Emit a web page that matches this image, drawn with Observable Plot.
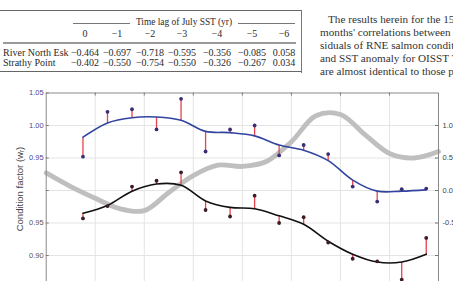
<!DOCTYPE html>
<html>
<head>
<meta charset="utf-8">
<script src="https://cdn.jsdelivr.net/npm/d3@7"></script>
<script src="https://cdn.jsdelivr.net/npm/@observablehq/plot@0.6"></script>
<style>
  html, body { margin: 0; padding: 0; background: #fff; }
  body { width: 453px; height: 281px; overflow: hidden; position: relative; font-family: "Liberation Serif", "Times New Roman", serif; color: #2a2a2a; }
  .rule { position: absolute; background: #777; }
  .cell { position: absolute; font-size: 10px; line-height: 11px; white-space: nowrap; transform: translateX(-50%); }
  .cell.left { transform: none; }
  .cell.head { font-size: 9.4px; }
  #para { position: absolute; left: 320px; top: 12.5px; width: 200px; font-size: 11.2px; line-height: 13px; white-space: nowrap; color: #333; }
  #para div:first-child { padding-left: 8px; }
  #chart { position: absolute; left: 0; top: 80px; }
  #ylabel { position: absolute; left: 19px; top: 189px; transform: translate(-50%, -50%) rotate(-90deg); font-family: "Liberation Sans", Arial, sans-serif; font-size: 9.5px; color: #444; white-space: nowrap; }
  #ylabel sub { font-size: 6.5px; vertical-align: -1px; }
</style>
</head>
<body>
<div id="table"></div>
<div id="para">
  <div>The results herein for the 15</div>
  <div>months' correlations between</div>
  <div>siduals of RNE salmon condition</div>
  <div>and SST anomaly for OISST V2</div>
  <div>are almost identical to those presented</div>
</div>
<div id="chart"></div>
<div id="ylabel">Condition factor (w<sub>r</sub>)</div>
<script>
// Correlation table: time lag of July SST (yr)
const lagLabels = ["0", "\u22121", "\u22122", "\u22123", "\u22124", "\u22125", "\u22126"];
const rneCorr = ["\u22120.464", "\u22120.697", "\u22120.718", "\u22120.595", "\u22120.356", "\u22120.085", "0.058"];
const strathyCorr = ["\u22120.402", "\u22120.550", "\u22120.754", "\u22120.550", "\u22120.326", "\u22120.267", "0.034"];
const rowNames = ["River North Esk", "Strathy Point"];

// Condition factor series (annual) with smoothed fits
const years = [1997, 1998, 1999, 2000, 2001, 2002, 2003, 2004, 2005, 2006, 2007, 2008, 2009, 2010, 2011];
const rneObserved = [0.952, 1.021, 1.025, 0.994, 1.041, 0.960, 0.994, 1.000, 0.954, 0.970, 0.956, 0.906, 0.883, 0.902, 0.903];
const rneFitted   = [0.982, 1.004, 1.012, 1.013, 1.008, 0.991, 0.989, 0.984, 0.970, 0.962, 0.946, 0.916, 0.899, 0.899, 0.901];
const strathyObserved = [0.957, 0.976, 1.006, 1.015, 1.028, 0.970, 0.960, 0.992, 0.950, 0.959, 0.920, 0.895, 0.891, 0.863, 0.927];
const strathyFitted   = [0.965, 0.977, 0.999, 1.010, 1.008, 0.984, 0.974, 0.972, 0.961, 0.948, 0.922, 0.902, 0.890, 0.890, 0.902];

// July SST anomaly (right axis)
const sstYears = [1995.5, 1996.5, 1997.5, 1998.5, 1999.5, 2000.5, 2001.5, 2002.5, 2003.5, 2004.5, 2005.5, 2006.5, 2007.5, 2008.5, 2009.5, 2010.5, 2011.5];
const sstAnomaly = [0.27, 0.06, -0.12, -0.28, -0.31, -0.03, 0.23, 0.39, 0.37, 0.45, 0.75, 1.15, 1.17, 0.86, 0.57, 0.50, 0.60];

// Axis ticks: two stacked left scales sharing one frame, SST on the right
const leftTopTicks = [1.05, 1.00, 0.95];
const leftTopLabels = ["1.05", "1.00", "0.95"];
const leftBottomTicks = [0.85, 0.80];
const leftBottomLabels = ["0.95", "0.90"];
const rightTicks = [1.00, 0.95, 0.90, 0.85];
const rightLabels = ["1.0", "0.5", "0.0", "-0.5"];
const yearGrid = [1997.5, 1999.5, 2001.5, 2003.5, 2005.5, 2007.5, 2009.5];
const yGrid = [1.00, 0.95, 0.90, 0.85, 0.80, 0.75];

// Strathy Point sits 0.10 lower on the shared axis; SST maps 1.0 -> 0.10
const strathyShift = 0.10;
const sstBase = 0.90, sstScale = 0.10;

// ---- table ----
const table = document.getElementById("table");
function addRule(x, y, w, h, color) {
  const d = document.createElement("div");
  d.className = "rule";
  Object.assign(d.style, {left: x + "px", top: y + "px", width: w + "px", height: h + "px", background: color});
  table.appendChild(d);
}
function addCell(text, x, y, cls) {
  const d = document.createElement("div");
  d.className = "cell" + (cls ? " " + cls : "");
  d.textContent = text;
  d.style.left = x + "px";
  d.style.top = (y - 5.5) + "px";
  table.appendChild(d);
}
addRule(0, 9.5, 302, 1.4, "#666");
addRule(73, 22.5, 57, 1, "#777");
addRule(238, 22.5, 57, 1, "#777");
addRule(3, 41.5, 293, 2, "#999");
addRule(0, 71, 302, 1.4, "#666");
addRule(301, 9.5, 1.2, 63, "#777");
addCell("Time lag of July SST (yr)", 184, 22.7, "head");
const colX = [85, 117, 150, 182, 217, 252, 284];
lagLabels.forEach((t, i) => addCell(t, colX[i], 33.5));
addCell(rowNames[0], 3, 52.7, "left");
addCell(rowNames[1], 3, 62.7, "left");
rneCorr.forEach((t, i) => addCell(t, colX[i], 52.7));
strathyCorr.forEach((t, i) => addCell(t, colX[i], 62.7));

// ---- chart ----
const rows = years.map((year, i) => ({
  year,
  rneObs: rneObserved[i], rneFit: rneFitted[i],
  spObs: strathyObserved[i] - strathyShift, spFit: strathyFitted[i] - strathyShift
}));
const sst = sstYears.map((year, i) => ({year, value: sstBase + sstScale * sstAnomaly[i]}));

const W = 453, mL = 45.7, mR = 15, mT = 12.5, mB = 30, innerH = 227.5;
const innerW = W - mL - mR;
const red = "#e5434d";
const tickFont = {fontFamily: "Liberation Sans, Arial, sans-serif", fontSize: 7.5};

const chart = Plot.plot({
  width: W,
  height: mT + innerH + mB,
  marginLeft: mL, marginRight: mR, marginTop: mT, marginBottom: mB,
  style: {background: "transparent", fontFamily: "Liberation Sans, Arial, sans-serif", fontSize: "7.5px"},
  x: {domain: [1995.5, 2011.5], axis: null},
  y: {domain: [0.70, 1.05], axis: null},
  marks: [
    Plot.gridX(yearGrid, {stroke: "#e4e4e4", strokeOpacity: 1}),
    Plot.gridY(yGrid, {stroke: "#e4e4e4", strokeOpacity: 1}),
    Plot.line(sst, {x: "year", y: "value", curve: "catmull-rom", stroke: "#bfbfbf", strokeWidth: 4.8}),
    Plot.link(rows, {x1: "year", x2: "year", y1: "rneObs", y2: "rneFit", stroke: red, strokeWidth: 1.3}),
    Plot.link(rows, {x1: "year", x2: "year", y1: "spObs", y2: "spFit", stroke: red, strokeWidth: 1.3}),
    Plot.line(rows, {x: "year", y: "rneFit", curve: "catmull-rom", stroke: "#3144a0", strokeWidth: 1.6}),
    Plot.line(rows, {x: "year", y: "spFit", curve: "catmull-rom", stroke: "#111", strokeWidth: 1.6}),
    Plot.dot(rows, {x: "year", y: "rneObs", r: 1.9, fill: "#3a2d78", stroke: "none"}),
    Plot.dot(rows, {x: "year", y: "spObs", r: 1.9, fill: "#3c1a26", stroke: "none"}),
    // inward ticks on the frame
    Plot.tickY([...leftTopTicks, 0.90, ...leftBottomTicks, 0.75], {y: d => d, stroke: "#777", insetRight: innerW - 3}),
    Plot.tickY([...rightTicks, 0.80, 0.75], {y: d => d, stroke: "#777", insetLeft: innerW - 3}),
    Plot.tickX(yearGrid, {x: d => d, stroke: "#777", insetBottom: innerH - 3}),
    Plot.frame({stroke: "#8a8a8a"}),
    Plot.axisY({anchor: "left", ticks: leftTopTicks, tickSize: 0, tickPadding: 2.5, label: null,
      tickFormat: d => leftTopLabels[leftTopTicks.indexOf(d)], fill: "#47479a", ...tickFont}),
    Plot.axisY({anchor: "left", ticks: leftBottomTicks, tickSize: 0, tickPadding: 2.5, label: null,
      tickFormat: d => leftBottomLabels[leftBottomTicks.indexOf(d)], fill: "#555", ...tickFont}),
    Plot.axisY({anchor: "right", ticks: rightTicks, tickSize: 0, tickPadding: 4, label: null,
      tickFormat: d => rightLabels[rightTicks.indexOf(d)], fill: "#444", ...tickFont})
  ]
});
document.getElementById("chart").appendChild(chart);
</script>
</body>
</html>
